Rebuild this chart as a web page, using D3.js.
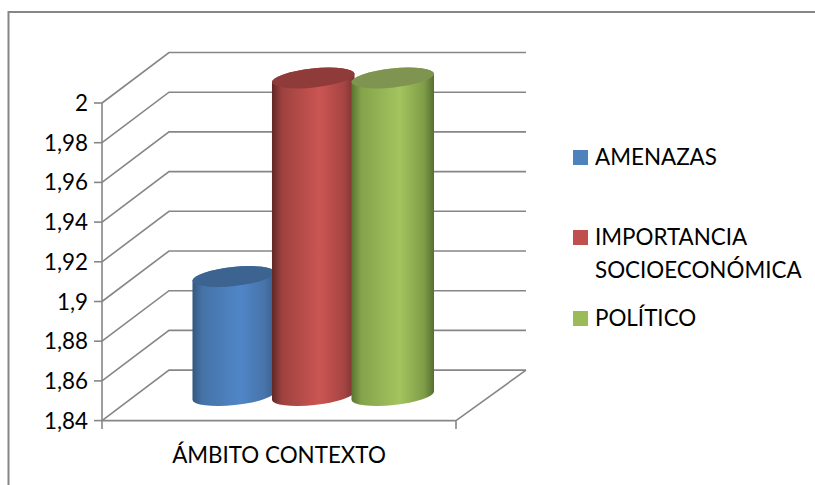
<!DOCTYPE html>
<html><head><meta charset="utf-8">
<script src="https://cdn.jsdelivr.net/npm/d3@7/dist/d3.min.js"></script>
<style>html,body{margin:0;padding:0;background:#fff;overflow:hidden}svg{display:block}text{font-family:Lato,"Open Sans",sans-serif;fill:#000}</style>
</head><body><svg id="c" width="815" height="485"></svg>
<script>
const categories = ["ÁMBITO CONTEXTO"];
const seriesNames = ["AMENAZAS", "IMPORTANCIA SOCIOECONÓMICA", "POLÍTICO"];
const seriesValues = [1.9, 2, 2];
const tickValues = [1.84, 1.86, 1.88, 1.9, 1.92, 1.94, 1.96, 1.98, 2];
const tickLabels = ["1,84", "1,86", "1,88", "1,9", "1,92", "1,94", "1,96", "1,98", "2"];
const baseColors = ["#4f81bd", "#c0504d", "#9bbb59"];
const edgeColors = [["#33587f", "#3a5f8c"], ["#5f2726", "#7a3332"], ["#5a7530", "#566f2e"]];
const midColors = ["#5086c8", "#cb5552", "#a4c45f"];
const capColors = ["#3d6390", "#8f3b3a", "#7f9450"];
const legendLines = [["AMENAZAS"], ["IMPORTANCIA", "SOCIOECONÓMICA"], ["POLÍTICO"]];

const svg = d3.select("#c");
const grid = "#868686";
const fontSize = "22.4px";
const y = d3.scaleLinear().domain([1.84, 2]).range([420.6, 103]);
const x0 = d3.scaleBand().domain(categories).range([102, 456]);
const x1 = d3.scaleBand().domain(seriesNames).range([194, 432.5]);
const dx = 67, dy = -50.5, backW = 357;
const rx = 41.5, ry = 9.5, rot = -6;
const midDepth = -25;

// outer frame
svg.append("rect").attr("x", 8.5).attr("y", 12).attr("width", 900).attr("height", 600)
  .attr("fill", "none").attr("stroke", grid).attr("stroke-width", 2);

// gridlines on walls
const g = svg.append("g").attr("fill", "none").attr("stroke", grid).attr("stroke-width", 1.6);
tickValues.forEach(v => {
  const py = y(v);
  g.append("path").attr("d", `M102,${py}L${102 + dx},${py + dy}H${102 + dx + backW}`);
  g.append("path").attr("d", `M94,${py}H102`);
});
const base = y(1.84);
g.append("path").attr("d", `M102,${y(2)}V${base + 8.5}`);
g.append("path").attr("d", `M102,${base}H456V${base + 8.5}M456,${base}L${456 + 70},${base + dy}`);

// tick labels
svg.append("g").selectAll("text").data(tickValues).join("text")
  .attr("x", 88).attr("y", d => y(d) + 8).attr("text-anchor", "end")
  .style("font-size", fontSize).text((d, i) => tickLabels[i]);

// category label
svg.append("text").attr("x", x0(categories[0]) + x0.bandwidth() / 2).attr("y", 463)
  .attr("text-anchor", "middle").style("font-size", fontSize).text(categories[0]);

// gradients
const defs = svg.append("defs");
seriesNames.forEach((s, i) => {
  const gr = defs.append("linearGradient").attr("id", "g" + i).attr("x1", 0).attr("x2", 1).attr("y1", 0).attr("y2", 0);
  gr.append("stop").attr("offset", 0).attr("stop-color", edgeColors[i][0]);
  gr.append("stop").attr("offset", 0.12).attr("stop-color", d3.interpolateRgb(edgeColors[i][0], baseColors[i])(0.65));
  gr.append("stop").attr("offset", 0.58).attr("stop-color", midColors[i]);
  gr.append("stop").attr("offset", 0.88).attr("stop-color", d3.interpolateRgb(edgeColors[i][1], baseColors[i])(0.6));
  gr.append("stop").attr("offset", 1).attr("stop-color", edgeColors[i][1]);
});

// cylinders
const rad = rot * Math.PI / 180;
const ex = rx * Math.cos(rad), ey = rx * Math.sin(rad);
const bars = svg.append("g");
seriesNames.forEach((s, i) => {
  const cx = x1(s) + x1.bandwidth() / 2;
  const by = y(1.84) + midDepth, ty = y(seriesValues[i]) + midDepth;
  bars.append("path").attr("fill", `url(#g${i})`).attr("d",
    `M${cx - ex},${ty - ey}L${cx - ex},${by - ey}` +
    `A${rx},${ry} ${rot} 0 0 ${cx + ex},${by + ey}` +
    `L${cx + ex},${ty + ey}` +
    `A${rx},${ry} ${rot} 0 0 ${cx - ex},${ty - ey}Z`);
  bars.append("ellipse").attr("rx", rx).attr("ry", ry).attr("fill", capColors[i])
    .attr("transform", `translate(${cx},${ty}) rotate(${rot})`);
});

// legend
const legendY = [157.5, 237.5, 318.5];
const leg = svg.append("g");
seriesNames.forEach((s, i) => {
  leg.append("rect").attr("x", 573).attr("y", legendY[i] - 7.5).attr("width", 15).attr("height", 15).attr("fill", baseColors[i]);
  legendLines[i].forEach((t, j) => {
    leg.append("text").attr("x", 595).attr("y", legendY[i] + 7.5 + j * 33).style("font-size", fontSize).text(t);
  });
});
</script></body></html>
